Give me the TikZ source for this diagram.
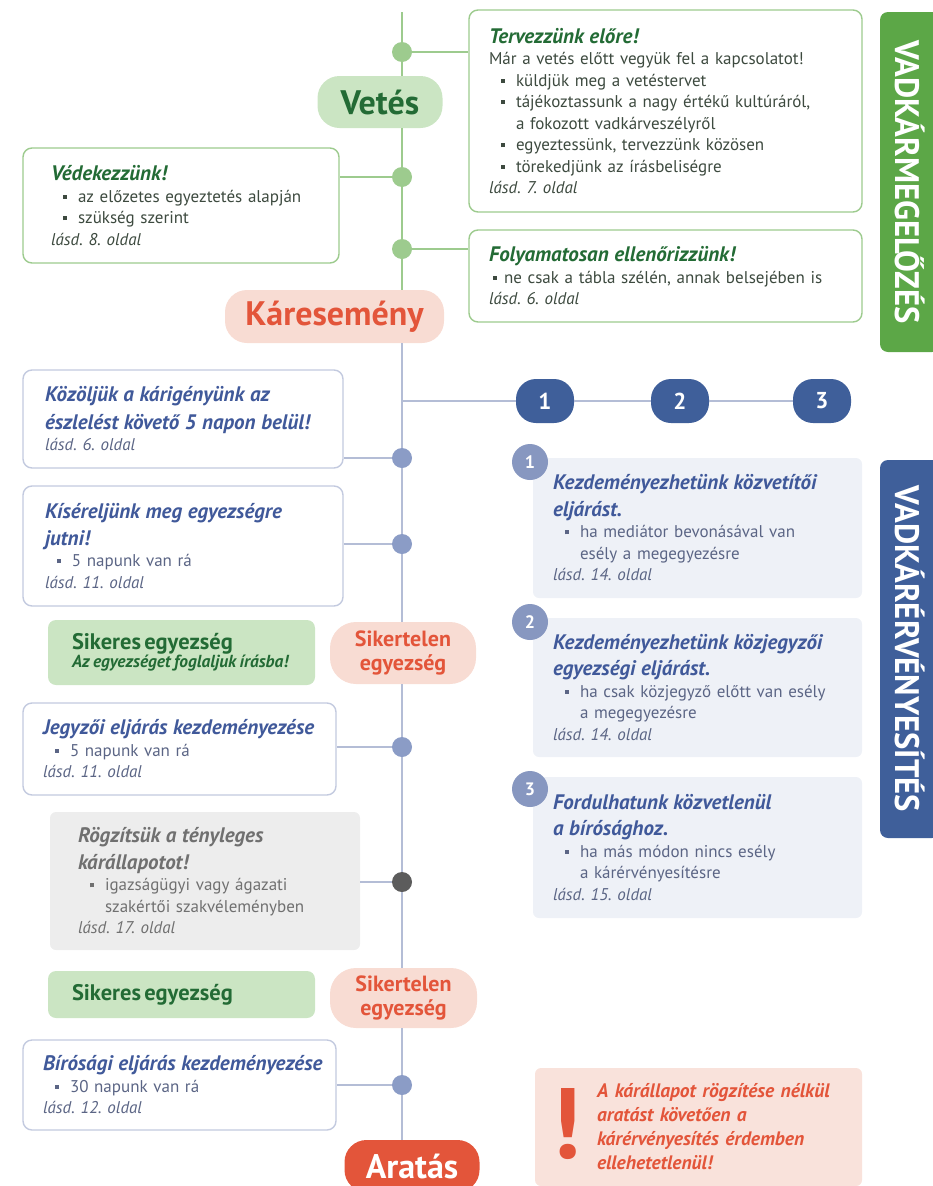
\documentclass[tikz,border=0pt]{standalone}
\usepackage{fontspec}
\setmainfont{PT Sans}
\usepackage{graphicx}
\usetikzlibrary{positioning}
\frenchspacing

\definecolor{grnline}{HTML}{9DCB8E}
\definecolor{grnpill}{HTML}{CBE5C3}
\definecolor{grntxt}{HTML}{236B35}
\definecolor{grnside}{HTML}{5CA747}
\definecolor{grnbody}{HTML}{3D4A3F}
\definecolor{bluline}{HTML}{B4BDD6}
\definecolor{bludot}{HTML}{8B9CC6}
\definecolor{bluborder}{HTML}{C3CADF}
\definecolor{blutitle}{HTML}{40599A}
\definecolor{blutxt}{HTML}{5B6585}
\definecolor{bluside}{HTML}{3F5F9A}
\definecolor{badge}{HTML}{8797C0}
\definecolor{optfill}{HTML}{EEF1F7}
\definecolor{orgtxt}{HTML}{E3553A}
\definecolor{orgpill}{HTML}{F8DCD3}
\definecolor{warnfill}{HTML}{F9E2DB}
\definecolor{greyfill}{HTML}{EDEDED}
\definecolor{greytxt}{HTML}{707070}
\definecolor{greydot}{HTML}{5C5C5C}

\newcommand\blt{\hspace*{12pt}\rule[3.5pt]{4pt}{4pt}\hspace*{11pt}}
\newcommand\cnt{\hspace*{27pt}}
\newcommand\lasd[1]{\textit{lásd. #1. oldal}}
\newcommand\bigttl[1]{\mbox{\fontsize{21}{24}\selectfont\bfseries\itshape #1}}
\newcommand\sidetxt[1]{\scalebox{0.96}[1]{\fontsize{34}{34}\selectfont\bfseries #1}}

\tikzset{
  gline/.style={draw=grnline, line width=2.5pt},
  bline/.style={draw=bluline, line width=2pt},
  dot/.style={circle, inner sep=0pt, minimum size=20pt},
  gdot/.style={dot, fill=grnline},
  bdot/.style={dot, fill=bludot},
  body/.style={font=\fontsize{17}{21.5}\selectfont, align=left, inner xsep=20pt, inner ysep=0pt},
  gbox/.style={body, draw=grnline, line width=1.4pt, rounded corners=9pt, fill=white, text=grnbody},
  bbox/.style={body, draw=bluborder, line width=1.4pt, rounded corners=9pt, fill=white, text=blutxt},
  optbox/.style={body, fill=optfill, rounded corners=6pt, text=blutxt},
  pill/.style={rounded corners=22pt, inner sep=0pt, font=\fontsize{34}{34}\selectfont\bfseries},
  okbox/.style={fill=grnpill, rounded corners=8pt, text=grntxt, align=left, inner xsep=24pt, inner ysep=0pt},
  failpill/.style={fill=orgpill, rounded corners=26pt, text=orgtxt, align=center, inner sep=0pt,
    font=\fontsize{22}{24}\selectfont\bfseries},
  numpill/.style={fill=bluside, rounded corners=20pt, text=white, minimum width=58pt, minimum height=44pt,
    inner sep=0pt, font=\fontsize{23}{23}\selectfont\bfseries},
  badgec/.style={circle, fill=badge, text=white, minimum size=36pt, inner sep=0pt,
    font=\fontsize{18}{18}\selectfont\bfseries},
  side/.style={rounded corners=8pt, text=white, inner sep=0pt, rotate=-90}
}

\begin{document}
\begin{tikzpicture}[x=1pt,y=-1pt]
\useasboundingbox (0,0) rectangle (932,1186);

% vadkármegelőzés
\coordinate (top) at (402,12);
\node[gdot] (g1) at (402,52) {};
\node[pill, fill=grnpill, text=grntxt, minimum width=125pt, minimum height=52pt] (vetes) at (380,102) {Vetés};
\node[gdot] (g2) at (402,177) {};
\node[gdot] (g3) at (402,249) {};
\node[pill, fill=orgpill, text=orgtxt, minimum width=219pt, minimum height=53pt] (kar) at (334.5,316.5) {Káresemény};

\node[gbox, minimum width=393pt, minimum height=202pt, text width=353pt] (terv) at (665.5,111) {%
  \bigttl{\textcolor{grntxt}{Tervezzünk előre!}}\\
  Már a vetés előtt vegyük fel a kapcsolatot!\\
  \blt küldjük meg a vetéstervet\\
  \blt tájékoztassunk a nagy értékű kultúráról,\\
  \cnt a fokozott vadkárveszélyről\\
  \blt egyeztessünk, tervezzünk közösen\\
  \blt törekedjünk az írásbeliségre\\
  \lasd{7}};
\node[gbox, inner xsep=28pt, minimum width=316pt, minimum height=115pt, text width=260pt] (vede) at (181,205.5) {%
  \bigttl{\textcolor{grntxt}{Védekezzünk!}}\\
  \blt az előzetes egyeztetés alapján\\
  \blt szükség szerint\\
  \lasd{8}};
\node[gbox, minimum width=393pt, minimum height=92pt, text width=353pt] (foly) at (665.5,276) {%
  \bigttl{\textcolor{grntxt}{Folyamatosan ellenőrizzünk!}}\\
  \hspace*{4pt}\rule[3.5pt]{4pt}{4pt}\hspace*{7pt}ne csak a tábla szélén, annak belsejében is\\
  \lasd{6}};

\node[side, fill=grnside, minimum width=340pt, minimum height=60pt] (prev) at (910,182) {\sidetxt{VADKÁRMEGELŐZÉS}};

\draw[gline] (top) -- (g1) -- (vetes.north -| g1);
\draw[gline] (vetes.south -| g1) -- (g2) -- (g3) -- (kar.north -| g3);
\draw[gline] (g1) -- (g1 -| terv.west);
\draw[gline] (g2) -- (g2 -| vede.east);
\draw[gline] (g3) -- (g3 -| foly.west);

% vadkárérvényesítés
\coordinate (j) at (402,401);
\node[numpill] (n1) at (545,401) {1};
\node[numpill] (n2) at (680,401) {2};
\node[numpill] (n3) at (822,401) {3};

\node[bdot] (d4) at (402,458) {};
\node[bdot] (d5) at (402,544) {};
\node[bdot] (d6) at (402,747) {};
\node[dot, fill=greydot] (d7) at (402,882) {};
\node[bdot] (d8) at (402,1085) {};

\node[bbox, inner xsep=22pt, minimum width=320pt, minimum height=98pt, text width=276pt] (koz) at (183,419) {%
  \bigttl{\textcolor{blutitle}{Közöljük a kárigényünk az}}\\[6pt]
  \bigttl{\textcolor{blutitle}{észlelést követő 5 napon belül!}}\\
  \lasd{6}};
\node[bbox, inner xsep=22pt, minimum width=320pt, minimum height=120pt, text width=276pt] (kis) at (183,546) {%
  \bigttl{\textcolor{blutitle}{Kíséreljünk meg egyezségre}}\\[5pt]
  \bigttl{\textcolor{blutitle}{jutni!}}\\
  \blt 5 napunk van rá\\
  \lasd{11}};
\node[okbox, minimum width=267pt, minimum height=65pt, text width=219pt] (sik1) at (181.5,652.5) {%
  {\fontsize{22.5}{22}\selectfont\bfseries Sikeres egyezség}\\
  {\fontsize{17.4}{18}\selectfont\bfseries\itshape Az egyezséget foglaljuk írásba!}};
\node[failpill, minimum width=146pt, minimum height=62pt] (fail1) at (403,653) {Sikertelen\\egyezség};
\node[bbox, minimum width=313pt, minimum height=92pt, text width=273pt] (jegy) at (179.5,749) {%
  \bigttl{\textcolor{blutitle}{Jegyzői eljárás kezdeményezése}}\\
  \blt 5 napunk van rá\\
  \lasd{11}};
\node[body, fill=greyfill, rounded corners=6pt, text=greytxt, inner xsep=28pt, minimum width=310pt,
  minimum height=138pt, text width=254pt] (rogz) at (205,881) {%
  \bigttl{Rögzítsük a tényleges}\\[5pt]
  \bigttl{kárállapotot!}\\
  \blt igazságügyi vagy ágazati\\
  \cnt szakértői szakvéleményben\\
  \lasd{17}};
\node[okbox, minimum width=267pt, minimum height=47pt, text width=219pt] (sik2) at (181.5,994.5) {%
  {\fontsize{22.5}{22}\selectfont\bfseries Sikeres egyezség}};
\node[failpill, minimum width=147pt, minimum height=60pt] (fail2) at (403.5,998) {Sikertelen\\egyezség};
\node[bbox, minimum width=313pt, minimum height=90pt, text width=273pt] (biro) at (179.5,1085) {%
  \bigttl{\textcolor{blutitle}{Bírósági eljárás kezdeményezése}}\\
  \blt 30 napunk van rá\\
  \lasd{12}};
\node[pill, fill=orgtxt, text=white, minimum width=135pt, minimum height=52pt] (arat) at (412,1166) {Aratás};

\node[optbox, minimum width=329pt, minimum height=140pt, text width=289pt] (opt1) at (697.5,528) {%
  \bigttl{\textcolor{blutitle}{Kezdeményezhetünk közvetítői}}\\[5pt]
  \bigttl{\textcolor{blutitle}{eljárást.}}\\
  \blt ha mediátor bevonásával van\\
  \cnt esély a megegyezésre\\
  \lasd{14}};
\node[optbox, minimum width=329pt, minimum height=139pt, text width=289pt] (opt2) at (697.5,687.5) {%
  \bigttl{\textcolor{blutitle}{Kezdeményezhetünk közjegyzői}}\\[5pt]
  \bigttl{\textcolor{blutitle}{egyezségi eljárást.}}\\
  \blt ha csak közjegyző előtt van esély\\
  \cnt a megegyezésre\\
  \lasd{14}};
\node[optbox, minimum width=329pt, minimum height=141pt, text width=289pt] (opt3) at (697.5,847.5) {%
  \bigttl{\textcolor{blutitle}{Fordulhatunk közvetlenül}}\\[5pt]
  \bigttl{\textcolor{blutitle}{a bírósághoz.}}\\
  \blt ha más módon nincs esély\\
  \cnt a kárérvényesítésre\\
  \lasd{15}};
\node[badgec] (b1) at (530,462) {1};
\node[badgec] (b2) at (530,622) {2};
\node[badgec] (b3) at (530,789) {3};

\node[fill=warnfill, rounded corners=6pt, text=orgtxt, align=left, inner xsep=0pt, inner ysep=0pt,
  minimum width=327pt, minimum height=118pt, text width=327pt,
  font=\fontsize{19.5}{24}\selectfont\bfseries\itshape] (warn) at (698.5,1127) {%
  \hspace*{62pt}A kárállapot rögzítése nélkül\\
  \hspace*{62pt}aratást követően a\\
  \hspace*{62pt}kárérvényesítés érdemben\\
  \hspace*{62pt}ellehetetlenül!};
\node[text=orgtxt, inner sep=0pt, font=\fontsize{100}{100}\selectfont\bfseries] (excl) at (566,1124) {!};

\node[side, fill=bluside, minimum width=378pt, minimum height=60pt] (enf) at (910,649) {\sidetxt{VADKÁRÉRVÉNYESÍTÉS}};

\draw[bline] (kar.south -| j) -- (j) -- (d4) -- (d5) -- (fail1.north -| d5);
\draw[bline] (fail1.south -| d6) -- (d6) -- (d7) -- (fail2.north -| d7);
\draw[bline] (fail2.south -| d8) -- (d8) -- (arat.north -| d8);
\draw[bline] (j) -- (n1) -- (n2) -- (n3);
\draw[bline] (d4) -- (d4 -| koz.east);
\draw[bline] (d5) -- (d5 -| kis.east);
\draw[bline] (d6) -- (d6 -| jegy.east);
\draw[bline] (d7) -- (d7 -| rogz.east);
\draw[bline] (d8) -- (d8 -| biro.east);
\end{tikzpicture}
\end{document}
